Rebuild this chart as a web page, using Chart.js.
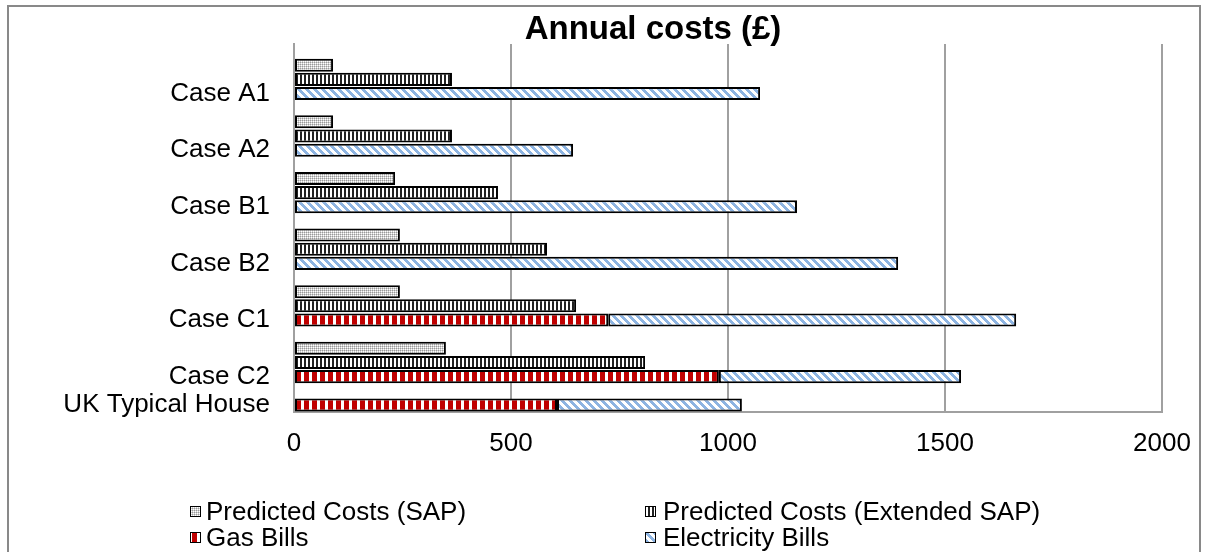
<!DOCTYPE html>
<html>
<head>
<meta charset="utf-8">
<script src="https://cdn.jsdelivr.net/npm/chart.js@4.4.1/dist/chart.umd.min.js"></script>
<style>
  html, body { margin: 0; padding: 0; background: #ffffff; }
  #wrap { position: absolute; left: 0; top: 0; width: 1208px; height: 552px; }
</style>
</head>
<body>
<div id="wrap"><canvas id="c" width="1208" height="552"></canvas></div>
<script>
// ---- data ----
const cases = ['Case A1', 'Case A2', 'Case B1', 'Case B2', 'Case C1', 'Case C2', 'UK Typical House'];
const sapCosts    = [90, 90, 233, 244, 244, 350, null];
const extSapCosts = [364, 364, 470, 583, 650, 809, null];
const gasBills    = [null, null, null, null, 724, 979, 606];
const elecBills   = [1074, 643, 1159, 1392, 940, 558, 426];
const xTicks = [0, 500, 1000, 1500, 2000];
const seriesNames = ['Predicted Costs (SAP)', 'Predicted Costs (Extended SAP)', 'Gas Bills', 'Electricity Bills'];
const chartTitle = 'Annual costs (£)';

const FONT = "'Liberation Sans', Arial, sans-serif";

// ---- one row per bar: SAP, Extended SAP, bills (labelled), spacer ----
const rowLabels = [], sapRow = [], extRow = [], gasRow = [], elecRow = [];
function pushRow(label, sap, ext, gas, elec) {
  rowLabels.push(label); sapRow.push(sap); extRow.push(ext); gasRow.push(gas); elecRow.push(elec);
}
pushRow('', null, null, null, null); // empty row above the first case
cases.forEach((name, i) => {
  if (sapCosts[i] != null) pushRow('', sapCosts[i], null, null, null);
  if (extSapCosts[i] != null) pushRow('', null, extSapCosts[i], null, null);
  pushRow(name, null, null, gasBills[i], elecBills[i]);
  if (i < cases.length - 1) pushRow('', null, null, null, null);
});

// ---- fill patterns ----
const mainCtx = document.getElementById('c').getContext('2d');
function makePattern(w, h, paint) {
  const t = document.createElement('canvas');
  t.width = w; t.height = h;
  const g = t.getContext('2d');
  for (let y = 0; y < h; y++) {
    for (let x = 0; x < w; x++) {
      g.fillStyle = paint(x, y);
      g.fillRect(x, y, 1, 1);
    }
  }
  return mainCtx.createPattern(t, 'repeat');
}
const sapFill = makePattern(4, 4, (x, y) => {
  if (y % 2 === 0) return x % 2 === 0 ? '#9a9a9a' : '#d0d0d0';
  return x % 2 === 0 ? '#d0d0d0' : '#ffffff';
});
const extFill  = makePattern(4, 1, (x) => (x < 2 ? '#222222' : '#ffffff'));
const gasFill  = makePattern(8, 1, (x) => (x < 5 ? '#c00000' : '#ffffff'));
const elecFill = makePattern(8, 8, (x, y) => ((((x - y) % 8) + 8) % 8 < 4 ? '#8db4e2' : '#ffffff'));

const barStyle = { borderColor: '#000000', borderWidth: 2, borderSkipped: false, barPercentage: 0.92, categoryPercentage: 1.0 };

// ---- chart frame, title and 2x2 legend ----
const framePlugin = {
  id: 'frame',
  beforeDraw(chart) {
    const ctx = chart.ctx;
    ctx.save();
    ctx.fillStyle = '#ffffff';
    ctx.fillRect(0, 0, chart.width, chart.height);
    ctx.strokeStyle = '#898989';
    ctx.lineWidth = 2;
    ctx.strokeRect(8, 6, 1192, 600);
    ctx.restore();
  },
  afterDraw(chart) {
    const ctx = chart.ctx;
    ctx.save();
    ctx.font = 'bold 33px ' + FONT;
    ctx.fillStyle = '#000000';
    ctx.textAlign = 'center';
    ctx.textBaseline = 'middle';
    ctx.fillText(chartTitle, 653, 30);
    ctx.restore();
  }
};
const gridLegend = {
  id: 'gridLegend',
  afterDraw(chart) {
    const ctx = chart.ctx;
    const boxX = [190, 645], textX = [206, 663], rows = [512, 538];
    ctx.save();
    ctx.font = '26px ' + FONT;
    ctx.textBaseline = 'middle';
    chart.data.datasets.forEach((ds, i) => {
      const x = boxX[i % 2], y = rows[Math.floor(i / 2)];
      ctx.fillStyle = ds.backgroundColor;
      ctx.fillRect(x, y - 6, 11, 11);
      ctx.strokeStyle = '#000000';
      ctx.lineWidth = 1;
      ctx.strokeRect(x + 0.5, y - 5.5, 10, 10);
      ctx.fillStyle = '#000000';
      ctx.fillText(ds.label, textX[i % 2], y + 1);
    });
    ctx.restore();
  }
};

new Chart(mainCtx, {
  type: 'bar',
  data: {
    labels: rowLabels,
    datasets: [
      Object.assign({ label: seriesNames[0], data: sapRow,  backgroundColor: sapFill },  barStyle),
      Object.assign({ label: seriesNames[1], data: extRow,  backgroundColor: extFill },  barStyle),
      Object.assign({ label: seriesNames[2], data: gasRow,  backgroundColor: gasFill },  barStyle),
      Object.assign({ label: seriesNames[3], data: elecRow, backgroundColor: elecFill }, barStyle)
    ]
  },
  options: {
    responsive: false,
    animation: false,
    indexAxis: 'y',
    layout: { padding: { left: 14, right: 46, top: 44, bottom: 80 } },
    plugins: {
      legend: { display: false },
      tooltip: { enabled: false },
      title: { display: false }
    },
    scales: {
      x: {
        stacked: true,
        min: 0,
        max: 2000,
        afterBuildTicks: (s) => { s.ticks = xTicks.map(v => ({ value: v })); },
        afterFit: (s) => { s.height = 60; },
        ticks: { color: '#000000', font: { family: FONT, size: 26 }, padding: 16, maxRotation: 0, callback: (v) => String(v) },
        grid: { color: '#a0a0a0', lineWidth: 2, drawTicks: false },
        border: { display: true, color: '#a0a0a0', width: 2 }
      },
      y: {
        stacked: true,
        afterFit: (s) => { s.width = 280; },
        ticks: { color: '#000000', font: { family: FONT, size: 26 }, padding: 24, autoSkip: false },
        grid: { display: false, drawTicks: false },
        border: { display: true, color: '#a0a0a0', width: 2 }
      }
    }
  },
  plugins: [framePlugin, gridLegend]
});
</script>
</body>
</html>
